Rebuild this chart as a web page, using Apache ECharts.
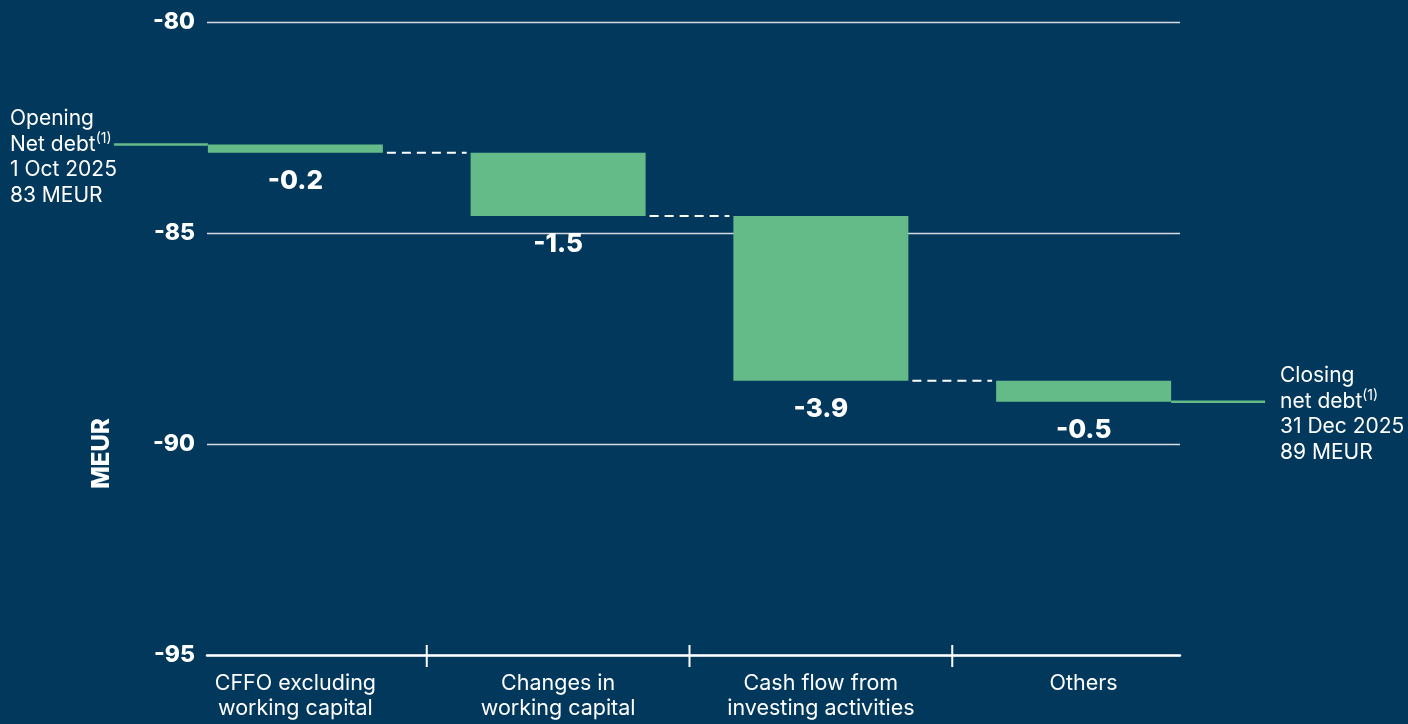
<!DOCTYPE html>
<html>
<head>
<meta charset="utf-8">
<script src="https://cdn.jsdelivr.net/npm/echarts@6/dist/echarts.min.js"></script>
<style>
  html, body { margin: 0; padding: 0; background: #02385c; }
  #chart { width: 1408px; height: 724px; }
</style>
</head>
<body>
<div id="chart"></div>
<script>
// Net debt bridge, Q4 2025 (MEUR, shown as negative values)
const categories = [
  'CFFO excluding\nworking capital',
  'Changes in\nworking capital',
  'Cash flow from\ninvesting activities',
  'Others'
];
const changes = [-0.2, -1.5, -3.9, -0.5];
const openingNetDebt = -82.9;
const yTicks = [-95, -90, -85, -80];

const BG = '#02385c';
const GREEN = '#65bb88';
const FONT = 'Inter, "Noto Sans", sans-serif';
const BAR_W = 175;

// running levels of the bridge
const round1 = v => Math.round(v * 10) / 10;
const bases = [];
const ends = [];
let level = openingNetDebt;
changes.forEach(c => {
  bases.push(round1(level));
  level = round1(level + c);
  ends.push(level);
});
const closingNetDebt = ends[ends.length - 1];

const chart = echarts.init(document.getElementById('chart'));

const noteRich = {
  t: { fontSize: 21, lineHeight: 25.7, fill: '#ffffff', fontFamily: FONT },
  s: { fontSize: 14, lineHeight: 16, verticalAlign: 'top', fill: '#ffffff', fontFamily: FONT }
};

const option = {
  backgroundColor: BG,
  animation: false,
  textStyle: { fontFamily: FONT },
  grid: [
    { left: 207, right: 228, top: 22, bottom: 69 },   // frame: gridlines + baseline
    { left: 164, right: 193, top: 22, bottom: 69 }    // bars
  ],
  xAxis: [
    {
      gridIndex: 0, type: 'value', min: 0, max: 1, position: 'bottom',
      axisLine: { show: true, onZero: false, lineStyle: { color: '#ffffff', width: 2.5 } },
      axisTick: { show: false }, axisLabel: { show: false }, splitLine: { show: false }
    },
    {
      gridIndex: 1, type: 'category', data: categories, position: 'bottom',
      axisLine: { show: false },
      axisTick: { show: false },
      axisLabel: {
        color: '#ffffff', fontSize: 21.5, lineHeight: 25, margin: 16, fontFamily: FONT,
        interval: 0
      },
      splitLine: { show: false }
    }
  ],
  yAxis: [
    {
      gridIndex: 0, type: 'value',
      min: yTicks[0], max: yTicks[yTicks.length - 1], interval: yTicks[1] - yTicks[0],
      axisLine: { show: false }, axisTick: { show: false },
      axisLabel: {
        color: '#ffffff', fontSize: 23, fontWeight: 800, margin: 12, fontFamily: FONT
      },
      splitLine: { show: true, lineStyle: { color: '#d5dbe1', width: 1.3 } },
      name: 'MEUR',
      nameLocation: 'middle',
      nameRotate: 90,
      nameGap: 93,
      nameTextStyle: {
        color: '#ffffff', fontSize: 24, fontWeight: 800, fontFamily: FONT,
        padding: [0, 230, 0, 0]
      }
    },
    {
      gridIndex: 1, type: 'value',
      min: yTicks[0], max: yTicks[yTicks.length - 1],
      show: false
    }
  ],
  series: [
    {
      name: 'base', type: 'bar', stack: 'bridge',
      xAxisIndex: 1, yAxisIndex: 1,
      data: bases, barWidth: BAR_W, silent: true,
      itemStyle: { color: 'rgba(0,0,0,0)' }
    },
    {
      name: 'change', type: 'bar', stack: 'bridge',
      xAxisIndex: 1, yAxisIndex: 1,
      data: changes, barWidth: BAR_W,
      itemStyle: { color: GREEN },
      label: {
        show: true, position: 'bottom', distance: 15,
        color: '#ffffff', fontSize: 26, fontWeight: 800, fontFamily: FONT,
        formatter: p => p.value.toFixed(1)
      }
    },
    {
      // dashed connectors between consecutive bars
      name: 'connectors', type: 'custom',
      xAxisIndex: 1, yAxisIndex: 1,
      data: ends.slice(0, -1).map((v, i) => [i, v]),
      renderItem: (params, api) => {
        const p = api.coord([api.value(0), api.value(1)]);
        const w = api.size([1, 0])[0];
        return {
          type: 'line',
          shape: { x1: p[0] + BAR_W / 2 + 4, y1: p[1], x2: p[0] + w - BAR_W / 2 - 4, y2: p[1] },
          style: { stroke: '#ffffff', lineWidth: 2, lineDash: [9, 6] }
        };
      }
    },
    {
      // opening and closing net debt levels
      name: 'edges', type: 'custom', clip: false,
      xAxisIndex: 1, yAxisIndex: 1,
      data: [[0, openingNetDebt, -1], [categories.length - 1, closingNetDebt, 1]],
      renderItem: (params, api) => {
        const p = api.coord([api.value(0), api.value(1)]);
        const side = api.value(2);
        const x0 = p[0] + side * BAR_W / 2;
        return {
          type: 'line',
          shape: { x1: x0, y1: p[1], x2: x0 + side * 94, y2: p[1] },
          style: { stroke: GREEN, lineWidth: 2.5 }
        };
      }
    },
    {
      // tick marks crossing the baseline between categories
      name: 'dividers', type: 'custom', clip: false, silent: true,
      xAxisIndex: 1, yAxisIndex: 1,
      data: categories.slice(0, -1).map((c, i) => [i, yTicks[0]]),
      renderItem: (params, api) => {
        const p = api.coord([api.value(0), api.value(1)]);
        const w = api.size([1, 0])[0];
        const x = p[0] + w / 2;
        return {
          type: 'line',
          shape: { x1: x, y1: p[1] - 10, x2: x, y2: p[1] + 12 },
          style: { stroke: '#ffffff', lineWidth: 2 }
        };
      }
    }
  ],
  graphic: [
    {
      type: 'text', left: 10, top: 108,
      style: {
        text: '{t|Opening}\n{t|Net debt}{s|(1)}\n{t|1 Oct 2025}\n{t|83 MEUR}',
        rich: noteRich
      }
    },
    {
      type: 'text', left: 1280, top: 365,
      style: {
        text: '{t|Closing}\n{t|net debt}{s|(1)}\n{t|31 Dec 2025}\n{t|89 MEUR}',
        rich: noteRich
      }
    }
  ]
};

chart.setOption(option);
</script>
</body>
</html>
